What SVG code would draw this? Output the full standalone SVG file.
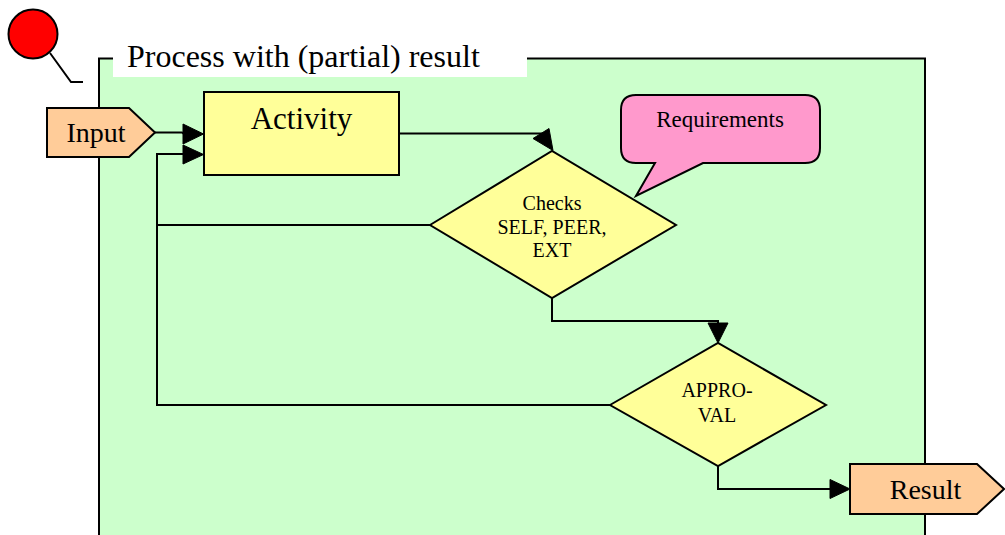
<svg xmlns="http://www.w3.org/2000/svg" width="1005" height="535" viewBox="0 0 1005 535">
<style>
.ln{fill:none;stroke:#000;stroke-width:2}
.ah{fill:#000;stroke:#000;stroke-width:1}
.sh{stroke:#000;stroke-width:2}
.t{font-family:"Liberation Serif","Times New Roman",serif;fill:#000;text-anchor:middle}
</style>
<rect width="1005" height="535" fill="#fff"/>
<g id="container">
<rect x="99" y="58.5" width="826" height="500" fill="#CCFFCC" class="sh"/>
<rect x="113" y="38" width="414" height="39" fill="#fff"/>
<text x="127" y="67" font-size="32" class="t" style="text-anchor:start">Process with (partial) result</text>
</g>
<g id="marker-pin">
<circle cx="33" cy="34" r="24.5" fill="#FF0000" class="sh"/>
<path d="M50,53 L71,82 H83" class="ln"/>
</g>
<g id="connectors">
<path d="M155,132.5 H182 L184,134" class="ln"/>
<polygon points="183,124 203.5,134 183,144" class="ah"/>
<path d="M399,133.5 H543" class="ln"/>
<polygon points="533,138.5 549,128.5 553,150.5" class="ah"/>
<path d="M430,225 H157 V154 H184" class="ln"/>
<polygon points="183,145 203.5,154.5 183,164" class="ah"/>
<path d="M610,405 H157 V225" class="ln"/>
<path d="M552,298 V321 H718 V324" class="ln"/>
<polygon points="708,323 728,323 718,343" class="ah"/>
<path d="M718,466 V489 H831" class="ln"/>
<polygon points="830,479.5 850,489 830,498.5" class="ah"/>
</g>
<g id="input">
<polygon points="47,108 129,108 155,132.5 129,157 47,157" fill="#FFCC99" class="sh"/>
<text x="96" y="142" font-size="28" class="t">Input</text>
</g>
<g id="activity">
<rect x="204" y="92" width="195" height="83" fill="#FFFF99" class="sh"/>
<text x="301.5" y="129" font-size="31" class="t">Activity</text>
</g>
<g id="checks">
<polygon points="430,225 552,151 676,225 552,298" fill="#FFFF99" class="sh"/>
<text font-size="20" class="t"><tspan x="552" y="210">Checks</tspan><tspan x="552" y="234">SELF, PEER,</tspan><tspan x="552" y="257">EXT</tspan></text>
</g>
<g id="requirements">
<path d="M636,95 H805 Q820,95 820,110 V148 Q820,163 805,163 H703 L636,196 L655,163 H636 Q621,163 621,148 V110 Q621,95 636,95 Z" fill="#FF99CC" class="sh"/>
<text x="720" y="127" font-size="23" class="t">Requirements</text>
</g>
<g id="approval">
<polygon points="610,405 718,343 826,405 718,466" fill="#FFFF99" class="sh"/>
<text font-size="20" class="t"><tspan x="717" y="397">APPRO-</tspan><tspan x="717" y="422">VAL</tspan></text>
</g>
<g id="result">
<polygon points="850,464 977,464 1004,489 977,514 850,514" fill="#FFCC99" class="sh"/>
<text x="925.5" y="499" font-size="28" class="t">Result</text>
</g>
</svg>
